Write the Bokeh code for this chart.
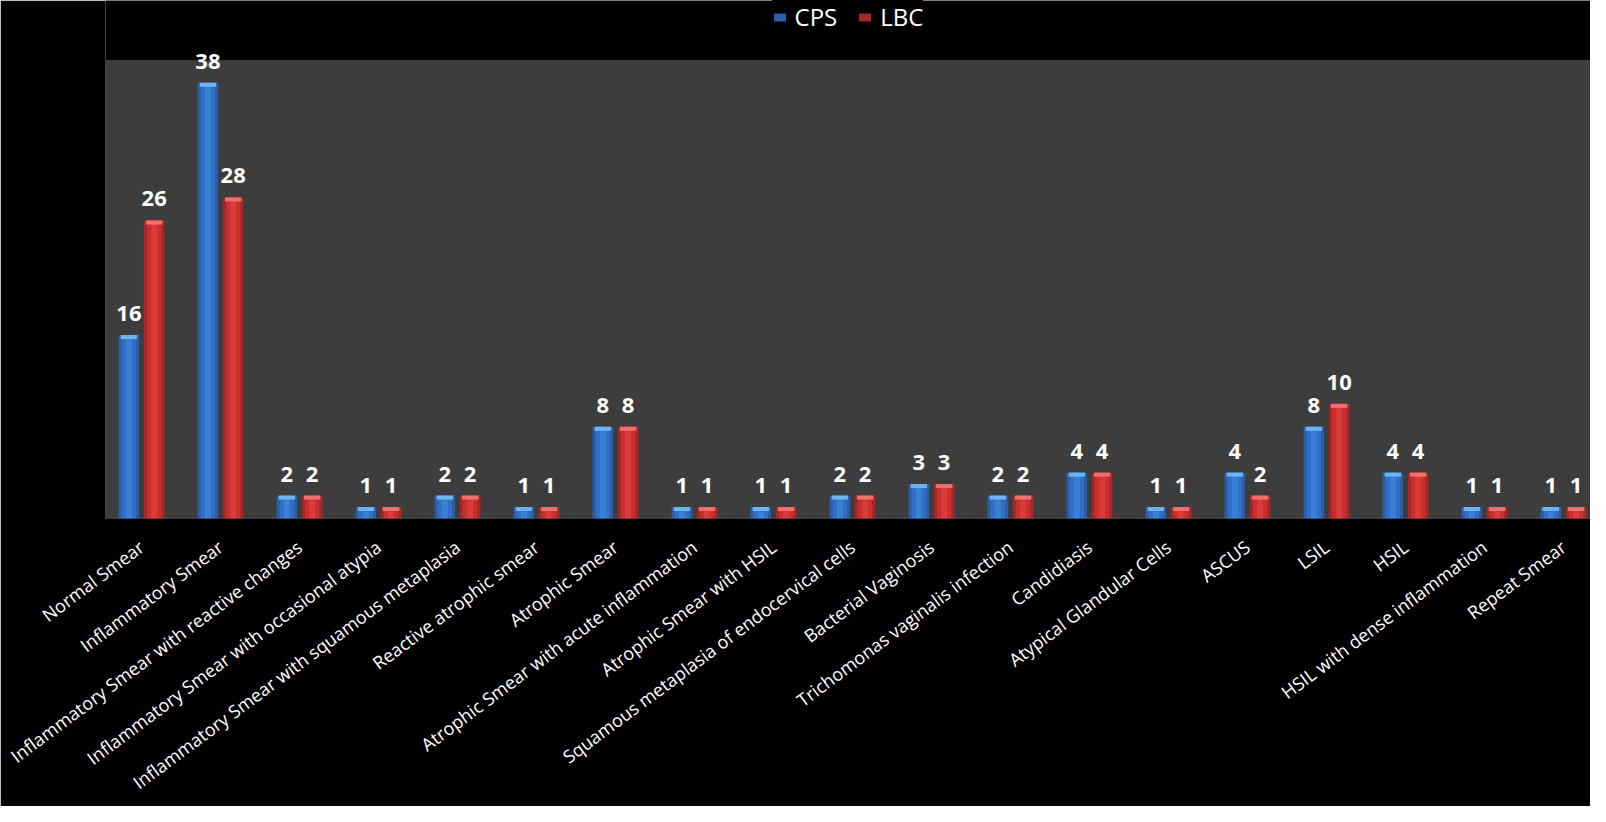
from bokeh.plotting import figure
from bokeh.models import (ColumnDataSource, Range1d, FixedTicker, BoxAnnotation,
                          Legend, LegendItem, LabelSet)
from bokeh.core.properties import value
from bokeh.embed import file_html
from bokeh.resources import INLINE

categories = ["Normal Smear", "Inflammatory Smear",
              "Inflammatory Smear with reactive changes",
              "Inflammatory Smear with occasional atypia",
              "Inflammatory Smear with squamous metaplasia",
              "Reactive atrophic smear", "Atrophic Smear",
              "Atrophic Smear with acute inflammation",
              "Atrophic Smear with HSIL",
              "Squamous metaplasia of endocervical cells",
              "Bacterial Vaginosis", "Trichomonas vaginalis infection",
              "Candidiasis", "Atypical Glandular Cells", "ASCUS", "LSIL",
              "HSIL", "HSIL with dense inflammation", "Repeat Smear"]
cps = [16, 38, 2, 1, 2, 1, 8, 1, 1, 2, 3, 2, 4, 1, 4, 8, 4, 1, 1]
lbc = [26, 28, 2, 1, 2, 1, 8, 1, 1, 2, 3, 2, 4, 1, 2, 10, 4, 1, 1]
series = ["CPS", "LBC"]

idx = list(range(len(categories)))
off = 0.16
bw = 0.26

src = ColumnDataSource(dict(
    xc=[i - off for i in idx], xl=[i + off for i in idx],
    cps=cps, lbc=lbc,
    cps_cap=[v - 0.35 for v in cps], lbc_cap=[v - 0.35 for v in lbc],
    cps_t=[str(v) for v in cps], lbc_t=[str(v) for v in lbc],
))

p = figure(width=1590, height=806, output_backend="svg", toolbar_location=None,
           x_range=Range1d(-0.456, 18.342), y_range=Range1d(0, 45.18),
           min_border_left=105, min_border_right=0, min_border_top=0,
           min_border_bottom=288)
p.background_fill_color = "black"
p.border_fill_color = "black"
p.outline_line_color = None
p.grid.visible = False
p.yaxis.visible = False

p.add_layout(BoxAnnotation(bottom=0, top=40, fill_color="#3d3d3d",
                           fill_alpha=1, line_color=None, level="underlay"))

def bar(xf, yf, capf, dark, mid, light, cap):
    r = p.vbar(x=xf, top=yf, width=bw, source=src, fill_color=dark, line_color=None)
    p.vbar(x=xf, top=yf, width=bw * 0.7, source=src, fill_color=mid, line_color=None)
    p.vbar(x=xf, top=yf, width=bw * 0.3, source=src, fill_color=light, line_color=None)
    p.vbar(x=xf, top=yf, bottom=capf, width=bw * 0.8, source=src,
           fill_color=cap, line_color=None)
    return r

rc = bar("xc", "cps", "cps_cap", "#2a5ea8", "#306fc4", "#3a7fd6", "#6fb4f0")
rl = bar("xl", "lbc", "lbc_cap", "#a82626", "#c92f2f", "#d93a3a", "#f07070")

for xf, yf, tf in (("xc", "cps", "cps_t"), ("xl", "lbc", "lbc_t")):
    p.add_layout(LabelSet(x=xf, y=yf, text=tf, source=src, y_offset=14,
                          text_align="center", text_baseline="alphabetic",
                          text_color="white", text_font=value("Open Sans"),
                          text_font_size="22px", text_font_style="bold"))

ax = p.xaxis[0]
ax.ticker = FixedTicker(ticks=idx)
ax.major_label_overrides = {i: c for i, c in zip(idx, categories)}
ax.major_label_orientation = 0.64
ax.major_label_standoff = 20
ax.major_label_text_color = "white"
ax.major_label_text_font = "Open Sans"
ax.major_label_text_font_size = "18px"
ax.axis_line_color = None
ax.major_tick_line_color = None
ax.minor_tick_line_color = None

legend = Legend(items=[LegendItem(label=series[0], renderers=[rc]),
                       LegendItem(label=series[1], renderers=[rl])],
                location="top_center", orientation="horizontal",
                background_fill_color="black", background_fill_alpha=1,
                border_line_color=None, label_text_color="white",
                label_text_font="Open Sans", label_text_font_size="24px",
                label_text_line_height=0.8,
                glyph_width=15, glyph_height=10, label_standoff=8,
                spacing=20, padding=0, margin=0, label_height=14)
p.add_layout(legend, "center")

open("out.html", "w").write(file_html(p, INLINE))
